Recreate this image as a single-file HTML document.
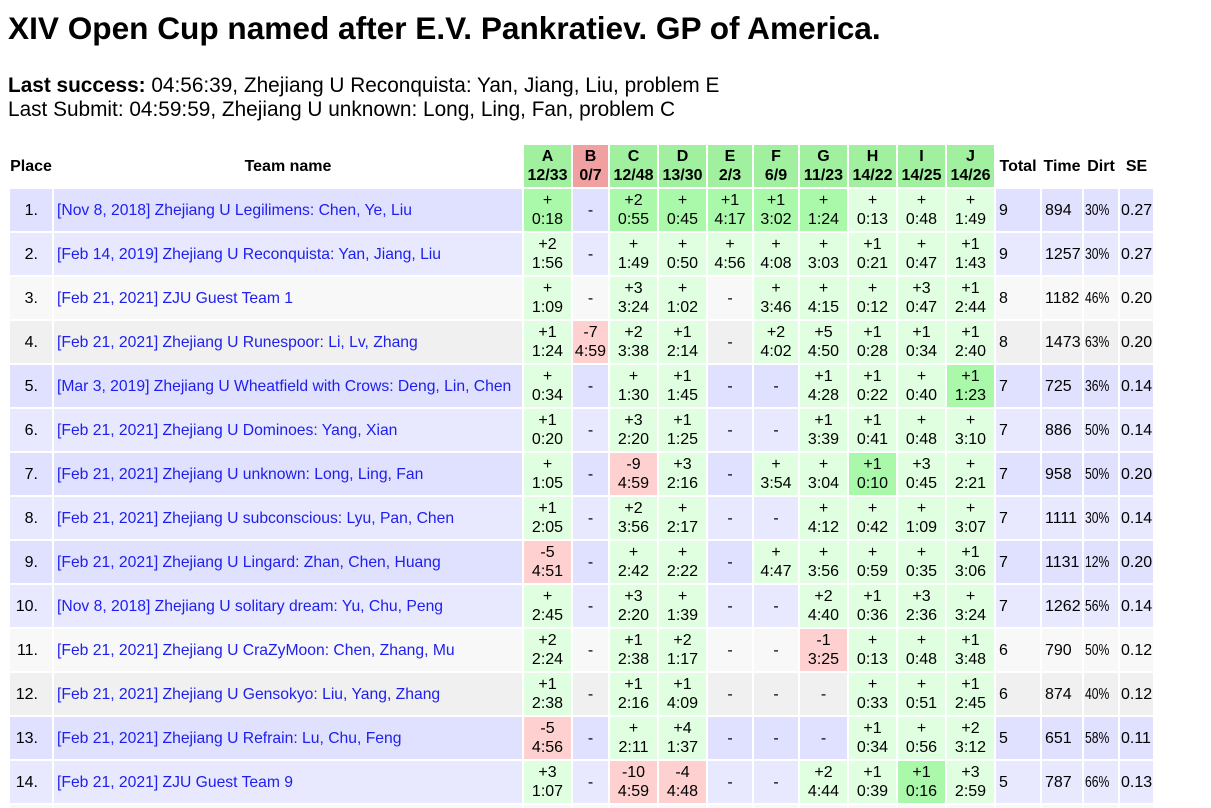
<!DOCTYPE html>
<html><head><meta charset="utf-8">
<style>
html,body{margin:0;height:808px;overflow:hidden;}
body{background:#fff;font-family:"Liberation Sans",Arial,sans-serif;color:#000;}
#w{position:absolute;left:0;top:0;width:1211px;height:808px;overflow:hidden;}
.t{position:absolute;left:8px;top:10px;font-size:31.6px;font-weight:bold;line-height:36px;white-space:nowrap;}
.info{position:absolute;left:8px;top:74px;font-size:20.8px;line-height:24px;white-space:nowrap;}
table{position:absolute;left:8px;top:143px;border-collapse:separate;border-spacing:2px;table-layout:fixed;width:1147px;font-size:16px;line-height:19px;}
td,th{padding:0;height:42px;text-align:center;vertical-align:middle;white-space:nowrap;overflow:visible;}
th{font-weight:bold;}
th.g{background:#a0f0a0;}
th.r{background:#f0a0a0;}
td.p{text-align:right;}
td.p span{margin-right:14px;}
td.n{text-align:left;text-indent:3px;color:#1e1ef0;font-size:15.7px;}
td.l{text-align:left;text-indent:3px;}
td.s{text-align:left;text-indent:1px;}
td.d{text-align:left;text-indent:1px;}
td.d span{display:inline-block;font-size:16px;transform:scaleX(0.76);transform-origin:0 50%;text-indent:0;}
tr.a td{background:#e0e0ff;}
tr.b td{background:#e8e8ff;}
tr.c td{background:#f8f8f8;}
tr.e td{background:#f0f0f0;}
tr td.o{background:#e0ffe0;}
tr td.f{background:#aaf8aa;}
tr td.x{background:#ffd0d0;}
tr.z td{height:3px;line-height:3px;}
</style></head><body>
<div id="w">
<div class="t">XIV Open Cup named after E.V. Pankratiev. GP of America.</div>
<div class="info"><b>Last success:</b> 04:56:39, Zhejiang U Reconquista: Yan, Jiang, Liu, problem E<br>Last Submit: 04:59:59, Zhejiang U unknown: Long, Ling, Fan, problem C</div>
<table>
<colgroup>
<col style="width:42px"><col style="width:468px"><col style="width:47px"><col style="width:35px"><col style="width:47px"><col style="width:47px"><col style="width:44px"><col style="width:44px"><col style="width:47px"><col style="width:47px"><col style="width:47px"><col style="width:47px"><col style="width:44px"><col style="width:40px"><col style="width:34px"><col style="width:33px">
</colgroup>
<tr><th>Place</th><th>Team name</th><th class="g">A<br>12/33</th><th class="r">B<br>0/7</th><th class="g">C<br>12/48</th><th class="g">D<br>13/30</th><th class="g">E<br>2/3</th><th class="g">F<br>6/9</th><th class="g">G<br>11/23</th><th class="g">H<br>14/22</th><th class="g">I<br>14/25</th><th class="g">J<br>14/26</th><th>Total</th><th>Time</th><th>Dirt</th><th>SE</th></tr>

<tr class="a"><td class="p"><span>1.</span></td><td class="n">[Nov 8, 2018] Zhejiang U Legilimens: Chen, Ye, Liu</td><td class="f">+<br>0:18</td><td>-</td><td class="f">+2<br>0:55</td><td class="f">+<br>0:45</td><td class="f">+1<br>4:17</td><td class="f">+1<br>3:02</td><td class="f">+<br>1:24</td><td class="o">+<br>0:13</td><td class="o">+<br>0:48</td><td class="o">+<br>1:49</td><td class="l">9</td><td class="l">894</td><td class="d"><span>30%</span></td><td class="s">0.27</td></tr>

<tr class="b"><td class="p"><span>2.</span></td><td class="n">[Feb 14, 2019] Zhejiang U Reconquista: Yan, Jiang, Liu</td><td class="o">+2<br>1:56</td><td>-</td><td class="o">+<br>1:49</td><td class="o">+<br>0:50</td><td class="o">+<br>4:56</td><td class="o">+<br>4:08</td><td class="o">+<br>3:03</td><td class="o">+1<br>0:21</td><td class="o">+<br>0:47</td><td class="o">+1<br>1:43</td><td class="l">9</td><td class="l">1257</td><td class="d"><span>30%</span></td><td class="s">0.27</td></tr>

<tr class="c"><td class="p"><span>3.</span></td><td class="n">[Feb 21, 2021] ZJU Guest Team 1</td><td class="o">+<br>1:09</td><td>-</td><td class="o">+3<br>3:24</td><td class="o">+<br>1:02</td><td>-</td><td class="o">+<br>3:46</td><td class="o">+<br>4:15</td><td class="o">+<br>0:12</td><td class="o">+3<br>0:47</td><td class="o">+1<br>2:44</td><td class="l">8</td><td class="l">1182</td><td class="d"><span>46%</span></td><td class="s">0.20</td></tr>

<tr class="e"><td class="p"><span>4.</span></td><td class="n">[Feb 21, 2021] Zhejiang U Runespoor: Li, Lv, Zhang</td><td class="o">+1<br>1:24</td><td class="x">-7<br>4:59</td><td class="o">+2<br>3:38</td><td class="o">+1<br>2:14</td><td>-</td><td class="o">+2<br>4:02</td><td class="o">+5<br>4:50</td><td class="o">+1<br>0:28</td><td class="o">+1<br>0:34</td><td class="o">+1<br>2:40</td><td class="l">8</td><td class="l">1473</td><td class="d"><span>63%</span></td><td class="s">0.20</td></tr>

<tr class="a"><td class="p"><span>5.</span></td><td class="n">[Mar 3, 2019] Zhejiang U Wheatfield with Crows: Deng, Lin, Chen</td><td class="o">+<br>0:34</td><td>-</td><td class="o">+<br>1:30</td><td class="o">+1<br>1:45</td><td>-</td><td>-</td><td class="o">+1<br>4:28</td><td class="o">+1<br>0:22</td><td class="o">+<br>0:40</td><td class="f">+1<br>1:23</td><td class="l">7</td><td class="l">725</td><td class="d"><span>36%</span></td><td class="s">0.14</td></tr>

<tr class="b"><td class="p"><span>6.</span></td><td class="n">[Feb 21, 2021] Zhejiang U Dominoes: Yang, Xian</td><td class="o">+1<br>0:20</td><td>-</td><td class="o">+3<br>2:20</td><td class="o">+1<br>1:25</td><td>-</td><td>-</td><td class="o">+1<br>3:39</td><td class="o">+1<br>0:41</td><td class="o">+<br>0:48</td><td class="o">+<br>3:10</td><td class="l">7</td><td class="l">886</td><td class="d"><span>50%</span></td><td class="s">0.14</td></tr>

<tr class="a"><td class="p"><span>7.</span></td><td class="n">[Feb 21, 2021] Zhejiang U unknown: Long, Ling, Fan</td><td class="o">+<br>1:05</td><td>-</td><td class="x">-9<br>4:59</td><td class="o">+3<br>2:16</td><td>-</td><td class="o">+<br>3:54</td><td class="o">+<br>3:04</td><td class="f">+1<br>0:10</td><td class="o">+3<br>0:45</td><td class="o">+<br>2:21</td><td class="l">7</td><td class="l">958</td><td class="d"><span>50%</span></td><td class="s">0.20</td></tr>

<tr class="b"><td class="p"><span>8.</span></td><td class="n">[Feb 21, 2021] Zhejiang U subconscious: Lyu, Pan, Chen</td><td class="o">+1<br>2:05</td><td>-</td><td class="o">+2<br>3:56</td><td class="o">+<br>2:17</td><td>-</td><td>-</td><td class="o">+<br>4:12</td><td class="o">+<br>0:42</td><td class="o">+<br>1:09</td><td class="o">+<br>3:07</td><td class="l">7</td><td class="l">1111</td><td class="d"><span>30%</span></td><td class="s">0.14</td></tr>

<tr class="a"><td class="p"><span>9.</span></td><td class="n">[Feb 21, 2021] Zhejiang U Lingard: Zhan, Chen, Huang</td><td class="x">-5<br>4:51</td><td>-</td><td class="o">+<br>2:42</td><td class="o">+<br>2:22</td><td>-</td><td class="o">+<br>4:47</td><td class="o">+<br>3:56</td><td class="o">+<br>0:59</td><td class="o">+<br>0:35</td><td class="o">+1<br>3:06</td><td class="l">7</td><td class="l">1131</td><td class="d"><span>12%</span></td><td class="s">0.20</td></tr>

<tr class="b"><td class="p"><span>10.</span></td><td class="n">[Nov 8, 2018] Zhejiang U solitary dream: Yu, Chu, Peng</td><td class="o">+<br>2:45</td><td>-</td><td class="o">+3<br>2:20</td><td class="o">+<br>1:39</td><td>-</td><td>-</td><td class="o">+2<br>4:40</td><td class="o">+1<br>0:36</td><td class="o">+3<br>2:36</td><td class="o">+<br>3:24</td><td class="l">7</td><td class="l">1262</td><td class="d"><span>56%</span></td><td class="s">0.14</td></tr>

<tr class="c"><td class="p"><span>11.</span></td><td class="n">[Feb 21, 2021] Zhejiang U CraZyMoon: Chen, Zhang, Mu</td><td class="o">+2<br>2:24</td><td>-</td><td class="o">+1<br>2:38</td><td class="o">+2<br>1:17</td><td>-</td><td>-</td><td class="x">-1<br>3:25</td><td class="o">+<br>0:13</td><td class="o">+<br>0:48</td><td class="o">+1<br>3:48</td><td class="l">6</td><td class="l">790</td><td class="d"><span>50%</span></td><td class="s">0.12</td></tr>

<tr class="e"><td class="p"><span>12.</span></td><td class="n">[Feb 21, 2021] Zhejiang U Gensokyo: Liu, Yang, Zhang</td><td class="o">+1<br>2:38</td><td>-</td><td class="o">+1<br>2:16</td><td class="o">+1<br>4:09</td><td>-</td><td>-</td><td>-</td><td class="o">+<br>0:33</td><td class="o">+<br>0:51</td><td class="o">+1<br>2:45</td><td class="l">6</td><td class="l">874</td><td class="d"><span>40%</span></td><td class="s">0.12</td></tr>

<tr class="a"><td class="p"><span>13.</span></td><td class="n">[Feb 21, 2021] Zhejiang U Refrain: Lu, Chu, Feng</td><td class="x">-5<br>4:56</td><td>-</td><td class="o">+<br>2:11</td><td class="o">+4<br>1:37</td><td>-</td><td>-</td><td>-</td><td class="o">+1<br>0:34</td><td class="o">+<br>0:56</td><td class="o">+2<br>3:12</td><td class="l">5</td><td class="l">651</td><td class="d"><span>58%</span></td><td class="s">0.11</td></tr>

<tr class="b"><td class="p"><span>14.</span></td><td class="n">[Feb 21, 2021] ZJU Guest Team 9</td><td class="o">+3<br>1:07</td><td>-</td><td class="x">-10<br>4:59</td><td class="x">-4<br>4:48</td><td>-</td><td>-</td><td class="o">+2<br>4:44</td><td class="o">+1<br>0:39</td><td class="f">+1<br>0:16</td><td class="o">+3<br>2:59</td><td class="l">5</td><td class="l">787</td><td class="d"><span>66%</span></td><td class="s">0.13</td></tr>

<tr class="c z"><td></td><td></td><td></td><td></td><td></td><td></td><td></td><td></td><td></td><td></td><td></td><td></td><td></td><td></td><td></td><td></td></tr>
</table>
</div>
</body></html>
